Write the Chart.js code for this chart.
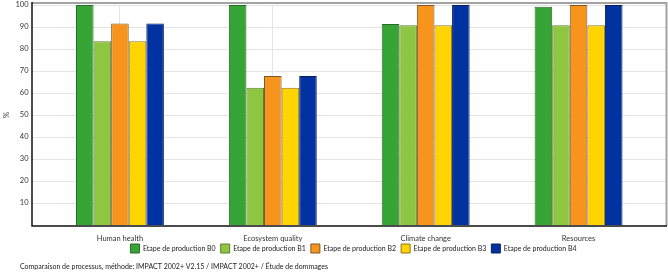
<!DOCTYPE html>
<html>
  <head>
    <meta charset="utf-8">
    <style>
      body { margin: 0; background: #fff; }
      #wrap { width: 668px; height: 274px; }
    </style>
  </head>
  <body>
    <div id="wrap"><canvas id="chart"></canvas></div>

    <script src="https://cdn.jsdelivr.net/npm/chart.js@4/dist/chart.umd.min.js"></script>
    <script>
      // values (%)
      var categories = ['Human health', 'Ecosystem quality', 'Climate change', 'Resources'];
      var seriesNames = ['Etape de production B0', 'Etape de production B1', 'Etape de production B2',
                         'Etape de production B3', 'Etape de production B4'];
      var b0 = [100, 100, 91.4, 99.2];
      var b1 = [83.5, 62.4, 90.8, 90.8];
      var b2 = [91.6, 67.7, 100, 100];
      var b3 = [83.5, 62.4, 90.8, 90.8];
      var b4 = [91.6, 67.7, 100, 100];
      var yTicks = [10, 20, 30, 40, 50, 60, 70, 80, 90, 100];
      var footer = 'Comparaison de processus, méthode: IMPACT 2002+ V2.15 / IMPACT 2002+ / Étude de dommages';

      var fills = ['#37a535', '#8ec641', '#f7941e', '#ffd400', '#0033a1'];
      var edges = ['#2b6b29', '#5f7d31', '#7d5527', '#8a7420', '#0a1f5c'];
      var font = 'Lato';

      var datasets = [b0, b1, b2, b3, b4].map(function (vals, i) {
        return {
          label: seriesNames[i],
          data: vals,
          backgroundColor: fills[i],
          borderColor: edges[i],
          borderWidth: 1,
          categoryPercentage: 0.575,
          barPercentage: 1
        };
      });

      var framePlugin = {
        id: 'frame',
        afterLayout: function (chart) {
          chart.legend.left += 26;
          chart.legend.right += 26;
          chart.titleBlock.left += 20;
          chart.titleBlock.right += 20;
          // let the category labels hang below their box
          var x = chart.scales.x;
          x.bottom = x.top + 22;
          x.height = 22;
        },
        beforeDatasetsDraw: function (chart) {
          var ctx = chart.ctx, y = chart.scales.y;
          ctx.save();
          ctx.strokeStyle = '#e4e4e4';
          ctx.lineWidth = 1;
          yTicks.forEach(function (v) {
            var py = Math.round(y.getPixelForValue(v)) + 0.5;
            ctx.beginPath();
            ctx.moveTo(32, py);
            ctx.lineTo(666, py);
            ctx.stroke();
          });
          ctx.restore();
        },
        afterDatasetsDraw: function (chart) {
          var ctx = chart.ctx, a = chart.chartArea;
          ctx.save();
          ctx.strokeStyle = '#a3a3a3';
          ctx.lineWidth = 2;
          ctx.beginPath();
          ctx.moveTo(32, 3);
          ctx.lineTo(666.5, 3);
          ctx.lineTo(666.5, a.bottom + 1);
          ctx.stroke();
          ctx.strokeStyle = '#111';
          ctx.lineWidth = 1.5;
          ctx.beginPath();
          ctx.moveTo(32, 2);
          ctx.lineTo(32, a.bottom + 1);
          ctx.lineTo(667, a.bottom + 1);
          ctx.stroke();
          ctx.restore();
        }
      };

      var ctx = document.getElementById('chart').getContext('2d');
      var chart = new Chart(ctx, {
        type: 'bar',
        data: { labels: categories, datasets: datasets },
        plugins: [framePlugin],
        options: {
          responsive: true,
          maintainAspectRatio: false,
          animation: false,
          layout: { padding: { top: 5, right: 13, left: 0, bottom: 0 } },
          scales: {
            x: {
              afterFit: function (s) { s.height = 14; },
              grid: { offset: false, color: '#e4e4e4', drawTicks: false },
              border: { display: false },
              ticks: { padding: 9, color: '#333', font: { family: font, size: 7.5 } }
            },
            y: {
              min: 0,
              max: 100,
              afterFit: function (s) {
                s.width = 43.5;
                s.paddingTop = 0;
                s.paddingBottom = 0;
              },
              afterBuildTicks: function (s) {
                s.ticks = yTicks.map(function (v) { return { value: v }; });
              },
              grid: { display: false, drawTicks: false },
              border: { display: false },
              ticks: { padding: 15, color: '#333', font: { family: font, size: 7.5 } },
              title: { display: true, text: '%', color: '#333', padding: 2, font: { family: font, size: 8 } }
            }
          },
          plugins: {
            legend: {
              position: 'bottom',
              labels: {
                boxWidth: 9,
                boxHeight: 9,
                padding: 5,
                color: '#222',
                font: { family: font, size: 7 }
              }
            },
            title: {
              display: true,
              position: 'bottom',
              align: 'start',
              text: footer,
              color: '#222',
              padding: { top: 0, bottom: 2.6 },
              font: { family: font, size: 7, weight: 'normal' }
            },
            tooltip: { enabled: false }
          }
        }
      });
    </script>
  </body>
</html>
